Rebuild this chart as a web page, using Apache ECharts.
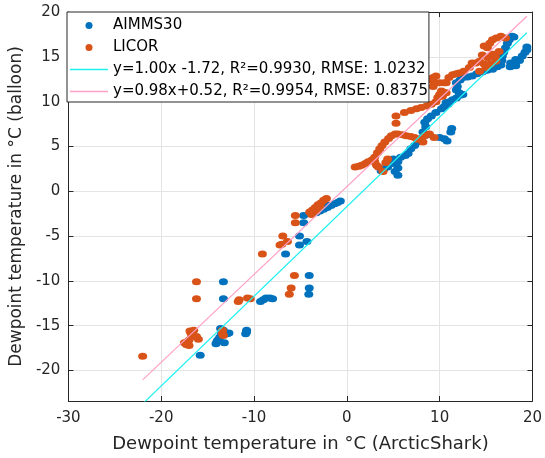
<!DOCTYPE html>
<html>
<head>
<meta charset="utf-8">
<script src="https://cdn.jsdelivr.net/npm/echarts@6/dist/echarts.min.js"></script>
<style>
html,body{margin:0;padding:0;background:#fff}
#chart{width:545px;height:458px}
</style>
</head>
<body>
<div id="chart"></div>
<script>
// values
var seriesNames = ['AIMMS30', 'LICOR',
  'y=1.00x -1.72, R\u00b2=0.9930, RMSE: 1.0232',
  'y=0.98x+0.52, R\u00b2=0.9954, RMSE: 0.8375']

var aimmsX = [-15.8,-13.3,-13.3,-14.1,-13.9,-13.7,-13.5,-13.3,-13.6,-12.9,-12.7,-13.2,-14.0,
  -10.8,-10.9,-10.8,-9.3,-9.0,-8.7,-8.3,-8.0,-6.6,-5.1,-5.1,-4.3,
  -4.05,-4.05,-4.1,-4.65,-4.65,
  -3.3,-2.9,-2.5,-2.1,-1.7,-1.3,-1.0,-0.7,-2.8,-2.2,
  4.4,3.7,4.0,4.9,5.2,5.5,5.5,5.5,5.0,5.8,6.3,6.6,6.9,7.3,7.65,8.0,8.2,8.5,8.4,8.7,9.1,9.6,10.2,10.5,10.9,10.0,10.5,10.8,11.2,11.3,8.7,
  10.7,11.1,11.4,11.8,12.2,12.5,11.8,12.1,11.9,11.8,12.2,12.5,13.0,13.5,14.0,14.6,15.1,15.7,16.2,16.6,16.7,16.75,16.9,17.1,17.3,17.5,17.8,18.0,
  17.6,17.65,18.2,18.2,18.6,18.9,19.2,19.4,19.4]
var aimmsY = [-18.3,-10.1,-12.0,-17.0,-16.6,-16.3,-15.9,-15.5,-15.3,-15.9,-15.8,-16.9,-16.8,
  -15.5,-15.9,-15.7,-12.3,-12.1,-11.9,-11.9,-12.0,-7.0,-5.0,-6.0,-5.6,
  -9.4,-10.8,-11.5,-2.7,-3.5,
  -2.4,-2.2,-2.0,-1.8,-1.6,-1.4,-1.25,-1.1,-1.9,-1.5,
  2.7,2.3,2.5,3.1,2.2,1.8,2.6,3.3,3.6,3.8,4.0,4.2,4.75,5.1,5.5,5.9,6.6,7.2,7.7,8.1,8.4,8.8,9.2,9.45,9.7,6.0,5.85,5.6,6.6,7.0,6.3,
  9.9,10.0,10.2,10.4,10.7,10.8,11.3,11.0,11.7,12.1,12.4,12.7,12.75,12.85,13.1,13.3,13.5,13.6,13.9,14.1,14.6,15.1,15.5,16.0,16.5,16.9,17.3,17.2,
  13.9,14.3,14.0,14.7,14.6,15.1,15.5,15.8,16.1]

var licorX = [-22.0,-16.2,-16.2,-17.5,-17.3,-17.0,-17.0,-16.8,-16.5,-16.7,-16.2,-16.0,-16.9,-17.2,
  -13.4,-13.4,-13.3,-11.7,-11.6,-10.7,-10.4,-9.1,-7.2,-6.9,-6.4,-7.0,
  -5.65,-6.0,-6.2,-5.55,-5.55,
  -4.0,-3.7,-3.4,-3.1,-2.8,-2.5,-2.2,-3.8,-3.3,-2.9,
  0.9,1.3,1.6,2.0,2.3,2.7,3.0,3.3,3.55,3.8,4.1,4.5,4.8,5.2,5.5,6.0,6.4,6.9,7.3,7.6,8.2,8.4,8.9,9.4,3.0,3.4,3.9,4.2,4.4,3.2,
  5.3,5.3,6.2,6.9,7.5,8.0,8.6,9.1,9.6,9.8,10.0,10.7,10.3,
  9.3,9.6,9.3,10.0,10.2,10.5,10.5,10.7,11.0,11.4,11.8,12.1,12.6,13.2,13.9,14.3,14.6,14.8,15.0,15.15,15.4,15.7,15.7,16.05,16.4,16.1,16.6,17.1,
  13.5,14.3,15.2,15.5,16.0,14.8,9.3]
var licorY = [-18.4,-10.1,-12.0,-16.9,-17.1,-17.2,-16.6,-15.8,-15.5,-16.2,-16.2,-16.5,-15.6,-16.8,
  -15.5,-15.9,-16.1,-12.3,-12.1,-11.9,-12.0,-7.0,-6.0,-5.0,-5.6,-5.9,
  -9.4,-10.8,-11.5,-2.7,-3.5,
  -2.3,-2.1,-1.8,-1.5,-1.3,-1.0,-0.8,-2.6,-2.2,-1.7,
  2.7,2.8,2.9,3.1,3.3,3.5,3.8,4.3,4.75,5.1,5.5,5.9,6.2,6.4,6.4,6.3,6.2,6.1,6.0,5.8,5.5,6.2,6.4,6.0,3.3,2.7,2.2,3.2,3.6,2.9,
  8.4,7.6,8.8,9.0,9.2,9.35,9.5,9.7,10.0,10.45,10.8,11.0,10.6,
  12.7,12.85,11.7,12.1,11.2,11.0,12.1,12.1,12.7,13.0,13.1,13.2,13.4,13.8,14.3,13.4,15.2,14.2,13.8,16.0,16.5,16.9,15.3,14.5,15.6,17.1,17.3,17.1,
  14.3,14.5,14.9,14.2,15.0,16.2,12.3]

// fit line end points
var fitAimmsX = [-22, 19.4]
var fitAimmsY = [-23.72, 17.68]
var fitLicorX = [-22, 19.4]
var fitLicorY = [-21.04, 19.53]

var xTicks = [-30, -20, -10, 0, 10, 20]
var yTicks = [-20, -15, -10, -5, 0, 5, 10, 15, 20]

function pairs(xs, ys){
  var out = []
  for (var i = 0; i < xs.length; i++) out.push([xs[i], ys[i]])
  return out
}

var font = 'DejaVu Sans'
var axisColor = '#262626'
var cyan = '#1ff0f0'
var pink = '#ffa0c6'
var lineIcon = 'path://M0,0 L38,0 L38,1.5 L0,1.5 Z'

var myChart = echarts.init(document.getElementById('chart'))
var option = {
  animation: false,
  backgroundColor: '#fff',
  textStyle: {fontFamily: font},
  grid: {left: 67, right: 11, top: 12, bottom: 56},
  legend: {
    orient: 'vertical',
    left: 67,
    top: 12,
    padding: [5, 1, 2, 3],
    itemWidth: 38,
    itemHeight: 7,
    itemGap: 5,
    backgroundColor: '#fff',
    borderColor: axisColor,
    borderWidth: 1,
    textStyle: {fontFamily: font, fontSize: 15, color: '#000', lineHeight: 17},
    data: [
      {name: seriesNames[0], icon: 'circle'},
      {name: seriesNames[1], icon: 'circle'},
      {name: seriesNames[2], icon: lineIcon, itemStyle: {color: cyan}},
      {name: seriesNames[3], icon: lineIcon, itemStyle: {color: pink}}
    ],
    z: 10
  },
  xAxis: [{
    type: 'value', position: 'bottom',
    min: -30, max: 20, interval: 10,
    name: 'Dewpoint temperature in \u00b0C (ArcticShark)',
    nameLocation: 'middle', nameGap: 34,
    nameTextStyle: {fontFamily: font, fontSize: 18, color: axisColor},
    axisLine: {show: true, onZero: false, lineStyle: {color: axisColor, width: 1}},
    axisTick: {show: true, inside: true, length: 5, lineStyle: {color: axisColor}},
    axisLabel: {fontFamily: font, fontSize: 15, color: axisColor, margin: 10},
    splitLine: {show: true, lineStyle: {color: '#e4e4e4', width: 1}}
  }, {
    type: 'value', position: 'top',
    min: -30, max: 20, interval: 10,
    axisLine: {show: true, onZero: false, lineStyle: {color: axisColor, width: 1}},
    axisTick: {show: true, inside: true, length: 5, lineStyle: {color: axisColor}},
    axisLabel: {show: false},
    splitLine: {show: false}
  }],
  yAxis: [{
    type: 'value', position: 'left',
    min: -23.4, max: 20,
    name: 'Dewpoint temperature in \u00b0C (balloon)',
    nameLocation: 'middle', nameGap: 42,
    nameTextStyle: {fontFamily: font, fontSize: 17, color: axisColor},
    axisLine: {show: true, onZero: false, lineStyle: {color: axisColor, width: 1}},
    axisTick: {show: true, inside: true, length: 5, lineStyle: {color: axisColor}, customValues: yTicks},
    axisLabel: {fontFamily: font, fontSize: 15, color: axisColor, margin: 8, customValues: yTicks},
    splitLine: {show: true, lineStyle: {color: '#e4e4e4', width: 1}}
  }, {
    type: 'value', position: 'right',
    min: -23.4, max: 20,
    axisLine: {show: true, onZero: false, lineStyle: {color: axisColor, width: 1}},
    axisTick: {show: true, inside: true, length: 5, lineStyle: {color: axisColor}, customValues: yTicks},
    axisLabel: {show: false, customValues: yTicks},
    splitLine: {show: false}
  }],
  series: [{
    name: seriesNames[0], type: 'scatter',
    symbolSize: [9, 7],
    itemStyle: {color: '#0072bd', opacity: 1},
    data: pairs(aimmsX, aimmsY), z: 2
  }, {
    name: seriesNames[1], type: 'scatter',
    symbolSize: [9, 7],
    itemStyle: {color: '#d95319', opacity: 1},
    data: pairs(licorX, licorY), z: 3
  }, {
    name: seriesNames[2], type: 'line',
    symbol: 'none',
    lineStyle: {color: cyan, width: 1.2},
    itemStyle: {color: cyan},
    data: pairs(fitAimmsX, fitAimmsY), z: 4
  }, {
    name: seriesNames[3], type: 'line',
    symbol: 'none',
    lineStyle: {color: pink, width: 1.2},
    itemStyle: {color: pink},
    data: pairs(fitLicorX, fitLicorY), z: 4
  }]
}
myChart.setOption(option)
window.addEventListener('resize', function(){ myChart.resize() })
</script>
</body>
</html>
